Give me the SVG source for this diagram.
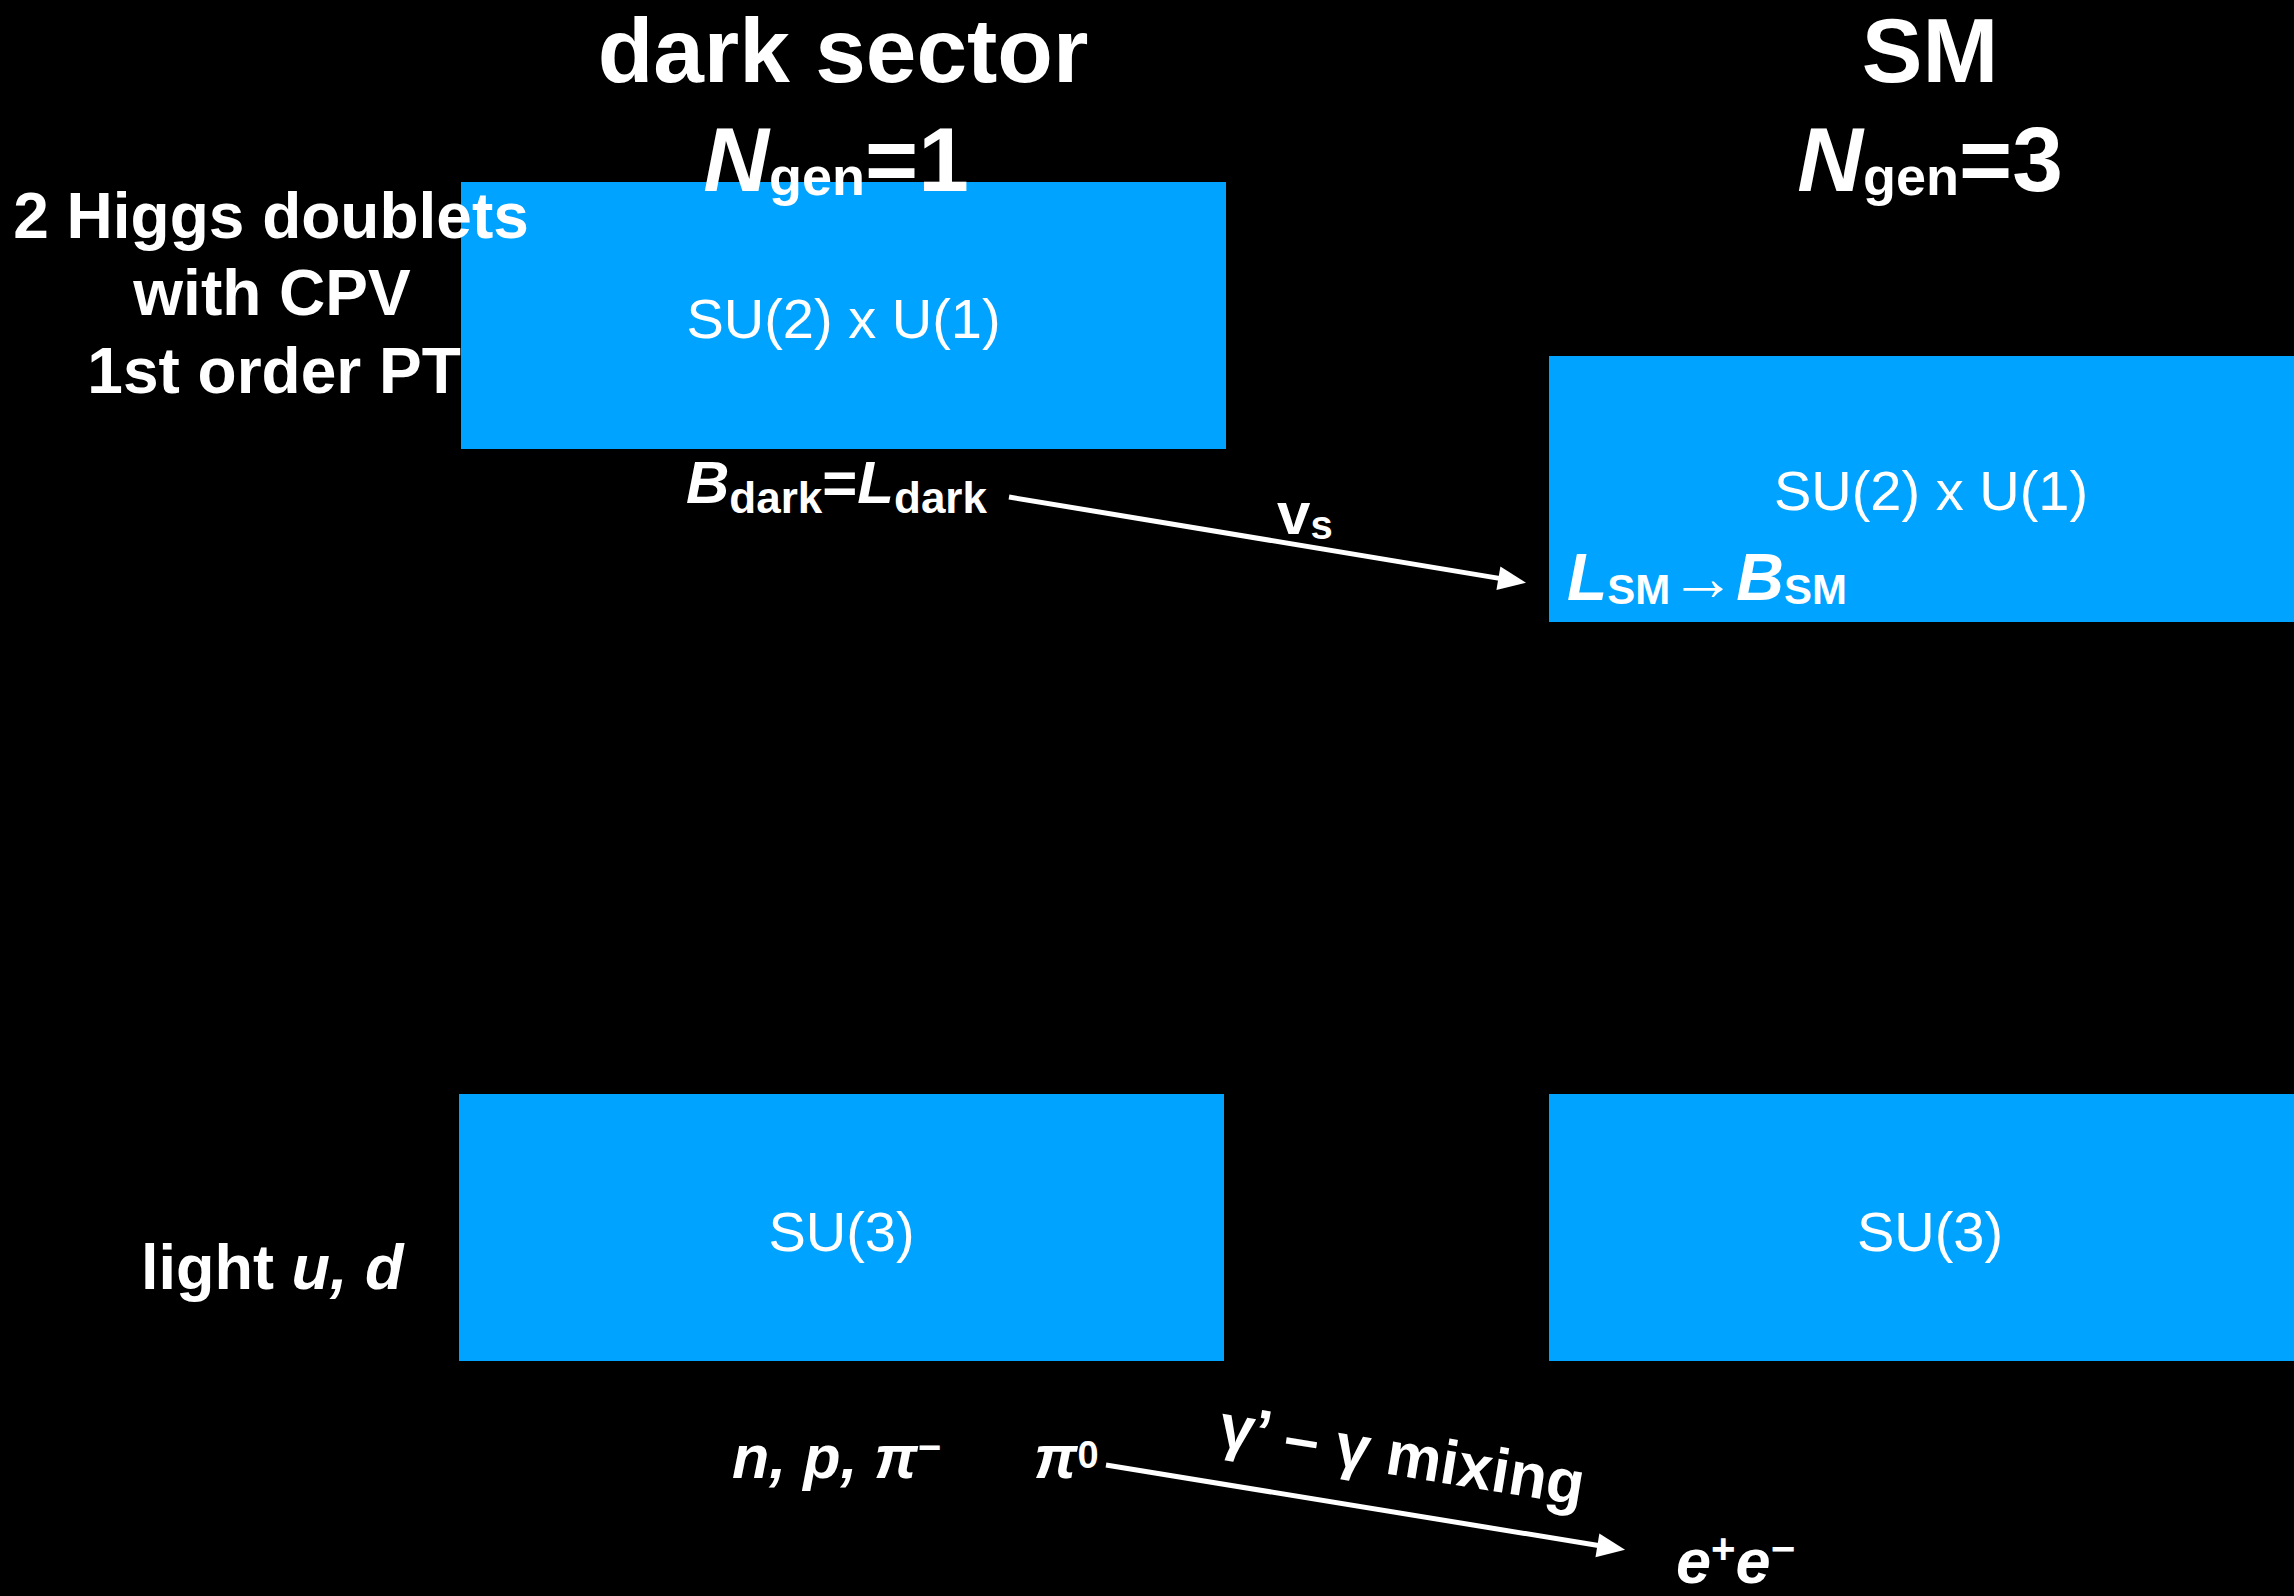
<svg xmlns="http://www.w3.org/2000/svg" width="2294" height="1596" viewBox="0 0 2294 1596">
<style>
text{font-family:"Liberation Sans",Arial,Helvetica,sans-serif;fill:#fff}
.b{font-weight:bold}
.i{font-style:italic}
.box{fill:#00A3FF}
.lbl{font-size:56px}
.h{font-size:91px;font-weight:bold}
.conn{stroke:#fff;stroke-width:5;fill:none}
</style>
<defs>
<marker id="ah" markerUnits="userSpaceOnUse" markerWidth="30" markerHeight="26" refX="1" refY="12" orient="auto" overflow="visible">
<path d="M0,0 L28,12 L0,24 z" fill="#fff"/>
</marker>
</defs>
<rect width="2294" height="1596" fill="#000"/>

<g id="dark-ew">
<rect class="box" x="461" y="182" width="765" height="267"/>
<text class="lbl" x="843.5" y="338" text-anchor="middle">SU(2) x U(1)</text>
</g>
<g id="sm-ew">
<rect class="box" x="1549" y="356" width="745" height="266"/>
<text class="lbl" x="1931" y="510" text-anchor="middle">SU(2) x U(1)</text>
</g>
<g id="dark-qcd">
<rect class="box" x="459" y="1094" width="765" height="267"/>
<text class="lbl" x="841.5" y="1251" text-anchor="middle">SU(3)</text>
</g>
<g id="sm-qcd">
<rect class="box" x="1549" y="1094" width="745" height="267"/>
<text class="lbl" x="1930" y="1251" text-anchor="middle">SU(3)</text>
</g>

<g id="headers">
<text class="h" x="843" y="82" text-anchor="middle">dark sector</text>
<text class="h" x="836" y="191" text-anchor="middle"><tspan class="i">N</tspan><tspan font-size="54" dy="4">gen</tspan><tspan dy="-4">=1</tspan></text>
<text class="h" x="1930" y="82" text-anchor="middle">SM</text>
<text class="h" x="1930" y="191" text-anchor="middle"><tspan class="i">N</tspan><tspan font-size="54" dy="4">gen</tspan><tspan dy="-4">=3</tspan></text>
</g>

<g id="higgs-note">
<text class="b" font-size="64" x="271" y="238" text-anchor="middle">2 Higgs doublets</text>
<text class="b" font-size="64" x="272" y="315" text-anchor="middle">with CPV</text>
<text class="b" font-size="64" x="274" y="393" text-anchor="middle">1st order PT</text>
</g>

<g id="light-quarks">
<text class="b" font-size="63" x="141" y="1289">light <tspan class="i">u, d</tspan></text>
</g>

<g id="b-dark">
<text class="b" font-size="60" x="686" y="503"><tspan class="i">B</tspan><tspan font-size="44" dy="10">dark</tspan><tspan dy="-10">=</tspan><tspan class="i">L</tspan><tspan font-size="44" dy="10">dark</tspan></text>
</g>

<g id="l-sm">
<text class="b" font-size="66" x="1567" y="600"><tspan class="i">L</tspan><tspan font-size="42" dy="4">SM</tspan><tspan dy="-4" font-size="66">→</tspan><tspan class="i">B</tspan><tspan font-size="42" dy="4">SM</tspan></text>
</g>

<g id="hadrons">
<text class="b i" font-size="61" x="732" y="1478">n, p, π<tspan font-size="40" dy="-17" font-style="normal">−</tspan></text>
</g>
<g id="pi0">
<text class="b i" font-size="61" x="1034" y="1478">π<tspan font-size="38" dy="-10" font-style="normal">0</tspan></text>
</g>
<g id="ee">
<text class="b i" font-size="63" x="1676" y="1583">e<tspan font-size="42" dy="-20" font-style="normal">+</tspan><tspan dy="20">e</tspan><tspan font-size="42" dy="-20" font-style="normal">−</tspan></text>
</g>

<g id="connectors">
<line class="conn" x1="1009" y1="497" x2="1499.4" y2="578.4" marker-end="url(#ah)"/>
<line class="conn" x1="1106" y1="1465" x2="1598.4" y2="1545.5" marker-end="url(#ah)"/>
<text class="b" font-size="60" x="1277" y="534">v<tspan font-size="40" dy="5">s</tspan></text>
<text class="b" font-size="62" transform="translate(1217,1446) rotate(9.3)" x="0" y="0">γ’ – γ mixing</text>
</g>
</svg>
